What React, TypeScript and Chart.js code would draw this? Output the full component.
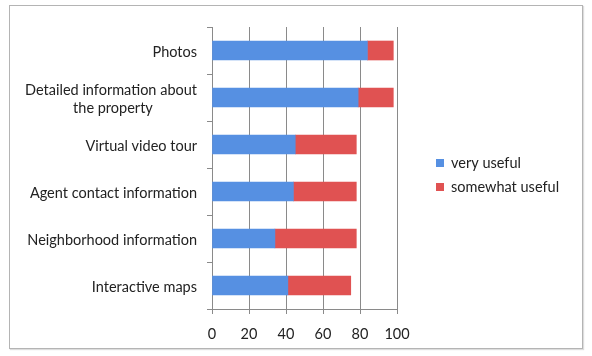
import React, { useEffect, useRef } from "react";
import { Chart, registerables } from "chart.js";

Chart.register(...registerables);

const categories: (string | string[])[] = [
  "Photos",
  ["Detailed information about", "the property"],
  "Virtual video tour",
  "Agent contact information",
  "Neighborhood information",
  "Interactive maps",
];
const veryUseful = [84, 79, 45, 44, 34, 41];
const somewhatUseful = [14, 19, 33, 34, 44, 34];
const seriesNames = ["very useful", "somewhat useful"];
const xTicks = [0, 20, 40, 60, 80, 100];

const FONT = "Lato, 'Open Sans', sans-serif";

const legendPlugin = {
  id: "customLegend",
  afterDraw(chart: any) {
    const ctx = chart.ctx;
    ctx.save();
    ctx.font = `14.5px ${FONT}`;
    ctx.textBaseline = "middle";
    ctx.textAlign = "left";
    chart.data.datasets.forEach((ds: any, i: number) => {
      const y = 163 + i * 24;
      ctx.fillStyle = ds.backgroundColor;
      ctx.fillRect(436, y - 4, 8, 8);
      ctx.fillStyle = "#222";
      ctx.fillText(ds.label, 451, y);
    });
    ctx.restore();
  },
};

// centre multi-line labels under their longest line
const labelLines = (v: any, idx: number, chart: any): string | string[] => {
  const lab = categories[idx];
  if (!Array.isArray(lab)) return lab;
  const ctx = chart.ctx;
  ctx.save();
  ctx.font = `14.5px ${FONT}`;
  const widths = lab.map((l: string) => ctx.measureText(l).width);
  const max = Math.max(...widths);
  const sp = ctx.measureText("\u00a0").width || 4;
  ctx.restore();
  return lab.map((l: string, i: number) => l + "\u00a0".repeat(Math.round((max - widths[i]) / 2 / sp)));
};

export default function App() {
  const ref = useRef<HTMLCanvasElement>(null);
  useEffect(() => {
    if (!ref.current) return;
    let chartRef: any = null;
    const chart = new Chart(ref.current, {
      type: "bar",
      data: {
        labels: categories,
        datasets: [
          { label: seriesNames[0], data: veryUseful, backgroundColor: "#5690E2", barThickness: 19 },
          { label: seriesNames[1], data: somewhatUseful, backgroundColor: "#E05252", barThickness: 19 },
        ],
      },
      options: {
        indexAxis: "y",
        animation: false,
        responsive: false,
        maintainAspectRatio: false,
        layout: { padding: { top: 27, right: 195, left: 0, bottom: 0 } },
        plugins: { legend: { display: false }, tooltip: { enabled: false } },
        scales: {
          x: {
            stacked: true,
            min: 0,
            max: 100,
            afterBuildTicks: (s: any) => { s.ticks = xTicks.map((v) => ({ value: v })); },
            afterFit: (s: any) => { s.height = 47; },
            grid: { color: "#8a8a8a", tickLength: 5, lineWidth: 1 },
            border: { color: "#8a8a8a" },
            ticks: { color: "#222", font: { family: FONT, size: 14.5 }, padding: 12 },
          },
          y: {
            stacked: true,
            afterFit: (s: any) => { s.width = 212; },
            grid: { drawOnChartArea: false, color: "#8a8a8a", tickLength: 5 },
            border: { color: "#8a8a8a" },
            ticks: {
              color: "#222",
              font: { family: FONT, size: 14.5, lineHeight: 1.25 },
              padding: 10,
              labelOffset: 2,
              callback: function (this: any, v: any, idx: number) {
                return labelLines(v, idx, this.chart);
              },
            },
          },
        },
      },
      plugins: [legendPlugin],
    });
    chartRef = chart;
    return () => chartRef.destroy();
  }, []);
  return (
    <div style={{ position: "fixed", left: 0, top: 0, width: 592, height: 356, background: "#fff" }}>
      <div
        style={{
          position: "absolute",
          left: 9,
          top: 5,
          width: 574,
          height: 344,
          boxSizing: "border-box",
          border: "1px solid #b4b4b4",
          boxShadow: "1px 1px 1px #ddd",
        }}
      />
      <canvas ref={ref} width={592} height={356} style={{ position: "absolute", left: 0, top: 0 }} />
    </div>
  );
}
